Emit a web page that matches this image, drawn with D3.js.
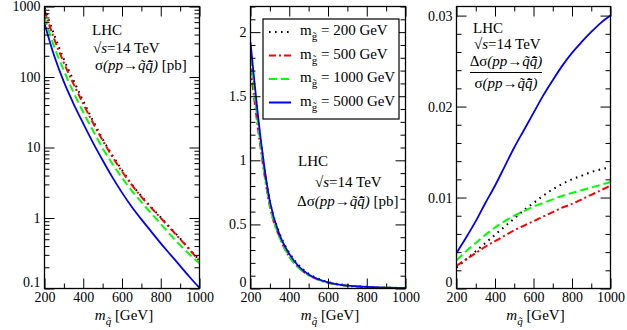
<!DOCTYPE html>
<html>
<head>
<meta charset="utf-8">
<script src="https://cdn.jsdelivr.net/npm/d3@7"></script>
<style>
body { margin: 0; background: #fff; }
text { font-family: "Liberation Serif", "Times New Roman", serif; fill: #000; }
</style>
</head>
<body>
<script>
// Chart dimension
const width = 627;
const height = 330;
const plotTop = 6.5;
const plotBottom = 288.5;

// Squark masses (GeV) where the curves are read
const masses = [200, 250, 300, 350, 400, 450, 500, 550, 600, 650, 700, 750, 800, 850, 900, 950, 1000];

// Gluino masses of the four curves
const gluinoLabels = ["200", "500", "1000", "5000"];

// Left panel: sigma(pp -> squark squark) [pb]
const sigma200 = [955, 398, 178, 89.1, 45.7, 24.0, 13.2, 7.76, 4.79, 3.02, 2.04, 1.43, 1.02, 0.724, 0.513, 0.359, 0.251];
const sigma500 = [891, 347, 158.5, 79.4, 41.7, 22.4, 12.6, 7.41, 4.57, 2.95, 2.0, 1.40, 1.0, 0.708, 0.501, 0.351, 0.245];
const sigma1000 = [708, 269, 123, 60.3, 31.6, 17.4, 9.77, 5.89, 3.72, 2.45, 1.68, 1.175, 0.822, 0.575, 0.412, 0.302, 0.229];
const sigma5000 = [575, 200, 85.1, 41.7, 21.9, 11.75, 6.6, 3.8, 2.29, 1.445, 0.955, 0.646, 0.437, 0.302, 0.209, 0.1445, 0.102];

// Middle panel: delta sigma [pb]
const dsig200 = [1.85, 1.18, 0.68, 0.43, 0.28, 0.18, 0.115, 0.076, 0.050, 0.035, 0.025, 0.018, 0.013, 0.009, 0.007, 0.005, 0.004];
const dsig500 = [1.72, 1.12, 0.64, 0.40, 0.25, 0.16, 0.105, 0.068, 0.045, 0.031, 0.021, 0.015, 0.011, 0.008, 0.006, 0.004, 0.003];
const dsig1000 = [1.80, 1.15, 0.65, 0.40, 0.25, 0.16, 0.105, 0.070, 0.046, 0.032, 0.022, 0.016, 0.011, 0.008, 0.006, 0.004, 0.003];
const dsig5000 = [1.92, 1.20, 0.68, 0.42, 0.27, 0.17, 0.11, 0.072, 0.048, 0.033, 0.023, 0.017, 0.012, 0.008, 0.006, 0.004, 0.003];

// Right panel: delta sigma / sigma
const ratio200 = [0.0023, 0.0032, 0.0041, 0.0050, 0.0059, 0.0068, 0.0077, 0.0086, 0.0094, 0.0102, 0.0109, 0.0115, 0.0120, 0.0124, 0.0128, 0.0131, 0.0133];
const ratio500 = [0.0025, 0.0032, 0.0039, 0.0046, 0.0052, 0.0058, 0.0064, 0.0069, 0.0074, 0.0079, 0.0084, 0.0089, 0.0093, 0.0098, 0.0103, 0.0108, 0.0113];
const ratio1000 = [0.0031, 0.0041, 0.0050, 0.0059, 0.0067, 0.0074, 0.0080, 0.0085, 0.0090, 0.0094, 0.0098, 0.0102, 0.0105, 0.0108, 0.0111, 0.0114, 0.0117];
const ratio5000 = [0.0039, 0.0056, 0.0074, 0.0094, 0.0113, 0.0134, 0.0155, 0.0174, 0.0193, 0.0212, 0.0229, 0.0245, 0.0259, 0.0271, 0.0282, 0.0292, 0.0300];

// Tick values and labels
const massTicks = [200, 400, 600, 800, 1000];
const massMinorTicks = [300, 500, 700, 900];
const logTicks = [0.1, 1, 10, 100, 1000];
const logTickLabels = ["0.1", "1", "10", "100", "1000"];
const dsigTicks = [0, 0.5, 1, 1.5, 2];
const dsigTickLabels = ["0", "0.5", "1", "1.5", "2"];
const ratioTicks = [0, 0.01, 0.02, 0.03];
const ratioTickLabels = ["0", "0.01", "0.02", "0.03"];

// Line styles (black dotted, red dash-dot, green dashed, blue solid)
const colors = ["#000000", "#ff0000", "#00ff00", "#0000ff"];
const dashes = ["1.6,4.4", "7,3,2,3", "8,4", null];

const squarks = "q\u0303q\u0303\u0304";

const svg = d3.select("body")
    .append("svg")
    .attr("width", width)
    .attr("height", height);

// Helper for text with italic / subscript pieces
function richText(x, y, parts, anchor) {
    const t = svg.append("text")
        .attr("x", x)
        .attr("y", y)
        .attr("font-size", 15)
        .attr("text-anchor", anchor || "start");
    parts.forEach(p => {
        const s = t.append("tspan").text(p.t);
        if (p.i) s.attr("font-style", "italic");
        if (p.dy) s.attr("dy", p.dy);
        if (p.fs) s.attr("font-size", p.fs);
    });
    return t;
}

function drawPanel(p, idx) {
    const x = d3.scaleLinear().domain([200, 1000]).range([p.left, p.right]);
    const y = p.y;

    const clipId = "clip" + idx;
    svg.append("clipPath").attr("id", clipId)
        .append("rect")
        .attr("x", p.left).attr("y", plotTop)
        .attr("width", p.right - p.left).attr("height", plotBottom - plotTop);

    // Curves
    const line = d3.line()
        .x((d, i) => x(masses[i]))
        .y(d => y(d))
        .curve(d3.curveMonotoneX);

    p.series.forEach((s, i) => {
        svg.append("path")
            .attr("clip-path", `url(#${clipId})`)
            .attr("d", line(s))
            .attr("fill", "none")
            .attr("stroke", colors[i])
            .attr("stroke-width", i === 3 ? 1.8 : 2)
            .attr("stroke-dasharray", dashes[i]);
    });

    // Axes with inward ticks
    const axes = [
        [d3.axisBottom(x).tickValues(massTicks).tickSize(-10).tickPadding(4).tickFormat(d3.format("d")), `translate(0,${plotBottom})`],
        [d3.axisBottom(x).tickValues(massMinorTicks).tickSize(-5).tickFormat(""), `translate(0,${plotBottom})`],
        [d3.axisTop(x).tickValues(massTicks).tickSize(-10).tickFormat(""), `translate(0,${plotTop})`],
        [d3.axisTop(x).tickValues(massMinorTicks).tickSize(-5).tickFormat(""), `translate(0,${plotTop})`],
        [d3.axisLeft(y).tickValues(p.yTicks).tickSize(-10).tickPadding(4).tickFormat((d, i) => p.yLabels[i]), `translate(${p.left},0)`],
        [d3.axisLeft(y).tickValues(p.yMinor).tickSize(-5).tickFormat(""), `translate(${p.left},0)`],
        [d3.axisRight(y).tickValues(p.yTicks).tickSize(-10).tickFormat(""), `translate(${p.right},0)`],
        [d3.axisRight(y).tickValues(p.yMinor).tickSize(-5).tickFormat(""), `translate(${p.right},0)`]
    ];
    axes.forEach((a, k) => {
        const g = svg.append("g").attr("transform", a[1]).call(a[0]);
        g.select(".domain").remove();
        g.selectAll("line").attr("stroke", "#000");
        g.selectAll("text")
            .attr("font-family", "Liberation Serif, serif")
            .attr("font-size", 14)
            .attr("fill", "#000");
        // lowest y label sits a little higher, as in the original
        if (k === 4) g.selectAll("text").filter((d, i) => i === 0).attr("dy", "-0.15em");
    });

    // Frame
    svg.append("rect")
        .attr("x", p.left).attr("y", plotTop)
        .attr("width", p.right - p.left).attr("height", plotBottom - plotTop)
        .attr("fill", "none")
        .attr("stroke", "#000")
        .attr("stroke-width", 1.3);

    // X axis title
    richText((p.left + p.right) / 2 + 2, 319.5, [
        {t: "m", i: true},
        {t: "q\u0303", i: true, dy: 5, fs: 11},
        {t: " [GeV]", dy: -5}
    ], "middle");
}

// Minor ticks for log axis
const logMinor = [];
[0.1, 1, 10, 100].forEach(dec => {
    for (let k = 2; k <= 9; k++) logMinor.push(dec * k);
});
const dsigMinor = d3.range(0, 23).map(k => k / 10).filter(v => Math.abs(v * 2 - Math.round(v * 2)) > 1e-6);
const ratioMinor = d3.range(0, 16).map(k => k * 0.002).filter(v => Math.abs(v * 100 - Math.round(v * 100)) > 1e-6);

const panels = [
    {
        left: 44.5, right: 199.5,
        y: d3.scaleLog().domain([0.1, 1000]).range([plotBottom, plotTop]),
        series: [sigma200, sigma500, sigma1000, sigma5000],
        yTicks: logTicks, yLabels: logTickLabels, yMinor: logMinor
    },
    {
        left: 250.5, right: 405.5,
        y: d3.scaleLinear().domain([0, 2.2]).range([plotBottom, plotTop]),
        series: [dsig200, dsig500, dsig1000, dsig5000],
        yTicks: dsigTicks, yLabels: dsigTickLabels, yMinor: dsigMinor
    },
    {
        left: 456.5, right: 610.5,
        y: d3.scaleLinear().domain([0, 0.031]).range([plotBottom, plotTop]),
        series: [ratio200, ratio500, ratio1000, ratio5000],
        yTicks: ratioTicks, yLabels: ratioTickLabels, yMinor: ratioMinor
    }
];

panels.forEach((p, i) => drawPanel(p, i));

// Left panel annotation
richText(92, 35, [{t: "LHC"}]);
richText(93, 53, [{t: "\u221a"}, {t: "s", i: true}, {t: "=14 TeV"}]);
richText(95, 70, [{t: "\u03c3"}, {t: "(pp\u2192" + squarks + ")", i: true}, {t: " [pb]"}]);

// Middle panel annotation
richText(298, 166, [{t: "LHC"}]);
richText(315, 187, [{t: "\u221a"}, {t: "s", i: true}, {t: "=14 TeV"}]);
richText(297, 206, [{t: "\u0394\u03c3"}, {t: "(pp\u2192" + squarks + ")", i: true}, {t: " [pb]"}]);

// Right panel annotation
richText(473, 33, [{t: "LHC"}]);
richText(474, 49, [{t: "\u221a"}, {t: "s", i: true}, {t: "=14 TeV"}]);
richText(506, 66, [{t: "\u0394\u03c3"}, {t: "(pp\u2192" + squarks + ")", i: true}], "middle");
svg.append("line")
    .attr("x1", 470).attr("x2", 542)
    .attr("y1", 72.5).attr("y2", 72.5)
    .attr("stroke", "#000").attr("stroke-width", 1);
richText(506, 88, [{t: "\u03c3"}, {t: "(pp\u2192" + squarks + ")", i: true}], "middle");

// Legend in middle panel
const legendX = 263, legendY = 19;
svg.append("rect")
    .attr("x", legendX).attr("y", legendY)
    .attr("width", 136).attr("height", 100)
    .attr("fill", "#fff")
    .attr("stroke", "#000")
    .attr("stroke-width", 1.2);

gluinoLabels.forEach((lab, i) => {
    const ly = 32 + i * 23.5;
    svg.append("line")
        .attr("x1", 269).attr("x2", 291)
        .attr("y1", ly).attr("y2", ly)
        .attr("stroke", colors[i])
        .attr("stroke-width", 2)
        .attr("stroke-dasharray", dashes[i]);
    richText(300, ly + 3, [
        {t: "m"},
        {t: "g\u0303", dy: 5, fs: 11},
        {t: " = " + lab + " GeV", dy: -5}
    ]);
});
</script>
</body>
</html>
